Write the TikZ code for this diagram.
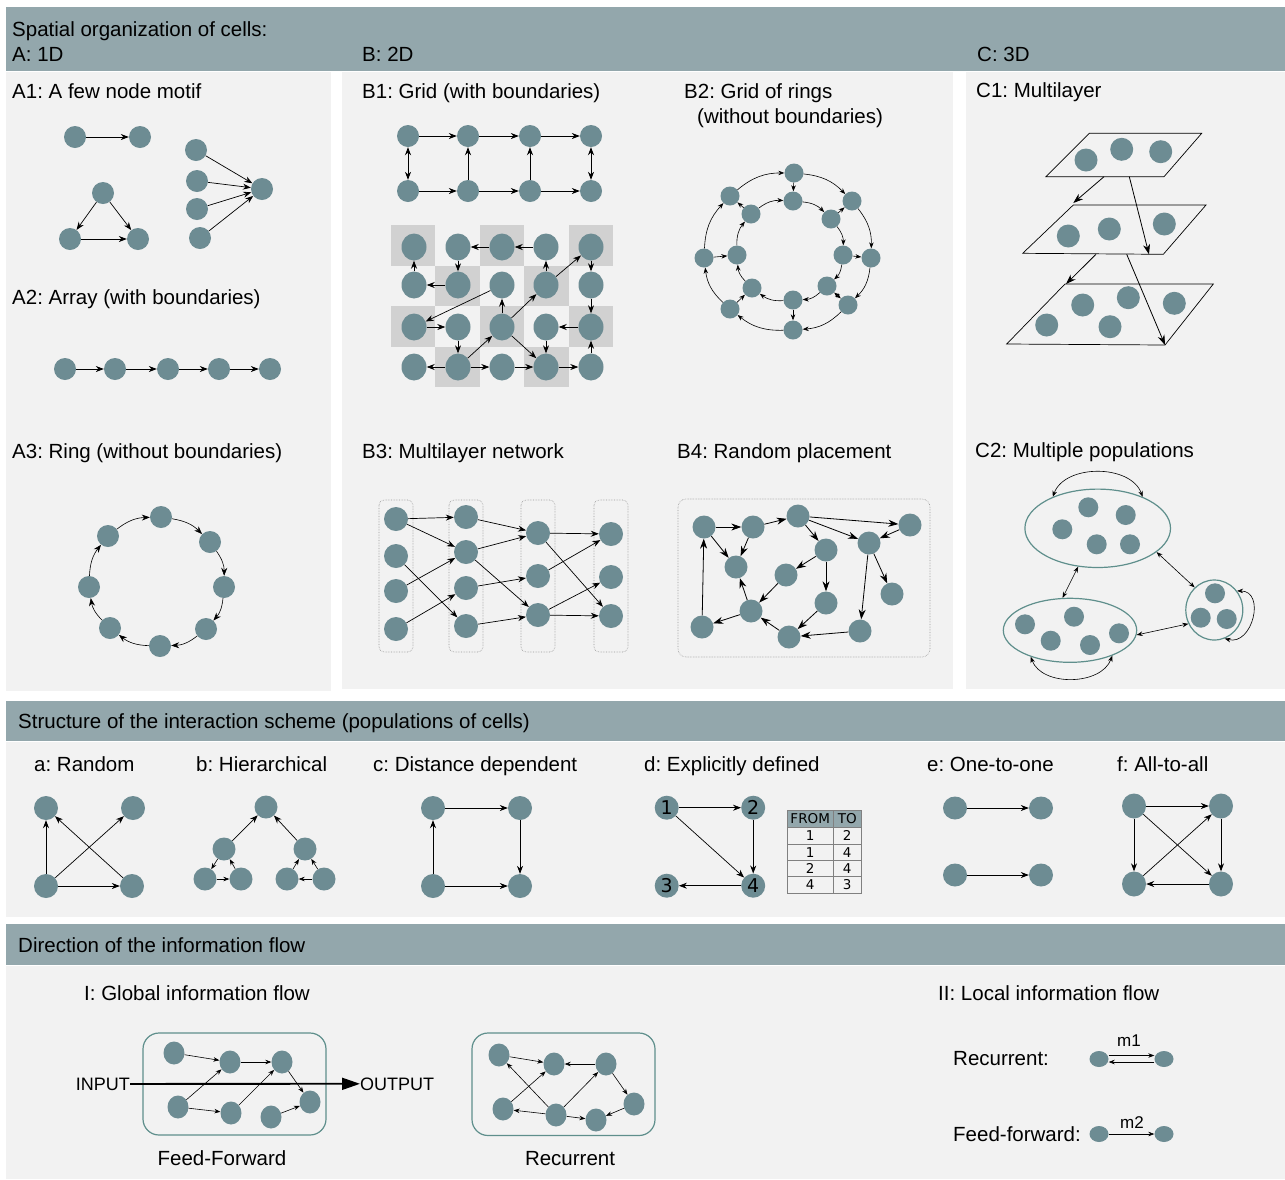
\documentclass[tikz,border=0pt]{standalone}
\usepackage{fontspec}
\setmainfont{Liberation Sans}
\newfontfamily\tabfont{DejaVu Sans}
\usetikzlibrary{arrows.meta,shapes.geometric}
\frenchspacing
\definecolor{headc}{HTML}{93A7AC}
\definecolor{panelc}{HTML}{F2F2F2}
\definecolor{cellc}{HTML}{6D8C93}
\definecolor{checkc}{HTML}{D1D1D1}
\definecolor{popc}{HTML}{5F8F8C}
\definecolor{dotc}{HTML}{9A9A9A}
\definecolor{gridc}{HTML}{808080}
\begin{document}
\begin{tikzpicture}[x=1pt,y=-1pt,
  cell/.style={ellipse,fill=cellc,draw=none,inner sep=0pt,minimum width=#1pt,minimum height=#1pt},
  cell/.default=22,
  lab/.style={anchor=base west,inner sep=0pt,font=\fontsize{20.5}{24}\selectfont},
  clab/.style={anchor=base,inner sep=0pt,font=\fontsize{20.5}{24}\selectfont},
  head/.style={fill=headc,draw=none},
  panel/.style={fill=panelc,draw=none},
  arr/.style={-{Stealth[length=8pt,width=6pt]},line width=0.7pt},
  arrl/.style={-{Stealth[length=10pt,width=7pt]},line width=0.8pt},
  arrs/.style={-{Stealth[length=6pt,width=4.5pt]},line width=0.6pt},
  darr/.style={{Stealth[length=8pt,width=6pt]}-{Stealth[length=8pt,width=6pt]},line width=0.7pt},
  darrs/.style={{Stealth[length=6pt,width=4.5pt]}-{Stealth[length=6pt,width=4.5pt]},line width=0.6pt},
  plane/.style={draw=black,line width=0.7pt},
  pop/.style={ellipse,draw=popc,line width=1.2pt,inner sep=0pt},
  layerbox/.style={draw=dotc,densely dotted,rounded corners=5pt,line width=0.6pt},
  netbox/.style={draw=popc,line width=1.2pt,rounded corners=16pt},
  tabtxt/.style={inner sep=0pt,font=\tabfont\fontsize{13.5}{15}\selectfont},
]
\useasboundingbox (0,0) rectangle (1285,1179);
\fill[white] (0,0) rectangle (1285,1179);
% section backgrounds
\fill[head] (6,7) rectangle (1285,71);
\fill[panel] (6,72) rectangle (331,691);
\fill[panel] (342,72) rectangle (953,689);
\fill[panel] (966,72) rectangle (1285,689);
\fill[head] (6,701) rectangle (1285,741);
\fill[panel] (6,742) rectangle (1285,917);
\fill[head] (6,924) rectangle (1285,965);
\fill[panel] (6,966) rectangle (1285,1179);

% ---------------- headings ----------------
\node[lab] (tSpatial) at (12,36) {Spatial organization of cells:};
\node[lab] (tA) at (12,61) {A: 1D};
\node[lab] (tB) at (362,61) {B: 2D};
\node[lab] (tC) at (977,61) {C: 3D};
\node[lab] (tA1) at (12,98) {A1: A few node motif};
\node[lab] (tA2) at (12,304) {A2: Array (with boundaries)};
\node[lab] (tA3) at (12,458) {A3: Ring (without boundaries)};
\node[lab] (tB1) at (362,98) {B1: Grid (with boundaries)};
\node[lab] (tB2) at (684,98) {B2: Grid of rings};
\node[lab] (tB2b) at (697,123) {(without boundaries)};
\node[lab] (tB3) at (362,458) {B3: Multilayer network};
\node[lab] (tB4) at (677,458) {B4: Random placement};
\node[lab] (tC1) at (976,97) {C1: Multilayer};
\node[lab] (tC2) at (975,457) {C2: Multiple populations};

% ---------------- A1: motifs ----------------
\node[cell] (p1) at (75,137) {};
\node[cell] (p2) at (140,137) {};
\draw[arr] (p1) -- (p2);
\node[cell] (t1) at (103,193) {};
\node[cell] (t2) at (70,239) {};
\node[cell] (t3) at (138,239) {};
\draw[arr] (t1) -- (t2);
\draw[arr] (t1) -- (t3);
\draw[arr] (t2) -- (t3);
\node[cell] (f1) at (196,150) {};
\node[cell] (f2) at (197,181) {};
\node[cell] (f3) at (197,209) {};
\node[cell] (f4) at (200,238) {};
\node[cell] (f0) at (262,189) {};
\foreach \s in {f1,f2,f3,f4} \draw[arr] (\s) -- (f0);

% ---------------- A2: array ----------------
\foreach \i/\x in {1/65,2/115,3/168,4/219,5/270} \node[cell] (r\i) at (\x,369) {};
\foreach \i/\j in {1/2,2/3,3/4,4/5} \draw[arr] (r\i) -- (r\j);

% ---------------- A3: ring ----------------
\foreach \i/\x/\y in {1/161/517,2/210/542,3/224/587,4/206/629,5/160/646,6/110/628,7/89/587,8/108/536}
  \node[cell] (g\i) at (\x,\y) {};
\foreach \i/\j in {1/2,2/3,3/4,4/5,5/6,6/7,7/8,8/1} \draw[arr,line width=0.6pt] (g\i) to[bend left=18] (g\j);

% ---------------- B1: grid ----------------
\foreach \i/\x in {1/408,2/468,3/530,4/591} {
  \node[cell] (bt\i) at (\x,136) {};
  \node[cell] (bb\i) at (\x,191) {};
}
\foreach \i/\j in {1/2,2/3,3/4} { \draw[arr] (bt\i) -- (bt\j); \draw[arr] (bb\i) -- (bb\j); }
\draw[darr] (bt1) -- (bb1);
\draw[arr] (bb2) -- (bt2);
\draw[arr] (bb3) -- (bt3);
\draw[darr] (bt4) -- (bb4);

% checkerboard grid
\foreach \c/\r in {0/0,2/0,4/0,1/1,3/1,0/2,2/2,4/2,1/3,3/3}
  \fill[checkc] (391+44.4*\c,225+40.5*\r) rectangle +(44.4,40.5);
\foreach \r/\y in {1/247,2/285,3/327,4/367}
  \foreach \c/\x in {1/414,2/458,3/502,4/546,5/591}
    \node[cell=25,minimum height=27pt] (q\r\c) at (\x,\y) {};
\draw[arr] (q13) -- (q12);
\draw[arr] (q14) -- (q13);
\draw[arr] (q12) -- (q22);
\draw[arr] (q21) -- (q11);
\draw[arr] (q22) -- (q21);
\draw[arr] (q23) -- (q31);
\draw[arr] (q24) -- (q14);
\draw[arr] (q24) -- (q15);
\draw[arr] (q15) -- (q25);
\draw[arr] (q25) -- (q35);
\draw[arr] (q31) -- (q32);
\draw[arr] (q33) -- (q23);
\draw[arr] (q33) -- (q24);
\draw[arr] (q35) -- (q34);
\draw[arr] (q32) -- (q42);
\draw[arr] (q42) -- (q33);
\draw[arr] (q33) -- (q44);
\draw[arr] (q34) -- (q44);
\draw[arr] (q42) -- (q41);
\draw[arr] (q42) -- (q43);
\draw[arr] (q43) -- (q44);
\draw[arr] (q44) -- (q45);
\draw[arr] (q45) -- (q35);

% ---------------- B2: grid of rings ----------------
\foreach \i/\x/\y in {1/794/173,2/852/201,3/871/258,4/848/305,5/793/330,6/730/309,7/704/258,8/730/196}
  \node[cell=19] (o\i) at (\x,\y) {};
\foreach \i/\x/\y in {1/793/201,2/831/219,3/843/255,4/827/286,5/793/300,6/752/288,7/737/255,8/751/214}
  \node[cell=19] (i\i) at (\x,\y) {};
\foreach \i/\j in {1/2,2/3,3/4,4/5,5/6,6/7,7/8,8/1} {
  \draw[arrs] (o\i) to[bend left=20] (o\j);
  \draw[arrs] (i\i) to[bend left=20] (i\j);
}
\draw[arrs] (o1) -- (i1);
\draw[arrs] (o7) -- (i7);
\draw[arrs] (i8) -- (o8);
\draw[arrs] (i2) -- (o2);
\draw[arrs] (i3) -- (o3);
\draw[darrs] (i4) -- (o4);
\draw[arrs] (i5) -- (o5);
\draw[arrs] (o6) -- (i6);

% ---------------- B3: multilayer network ----------------
\draw[layerbox] (379,500) rectangle (413,652);
\draw[layerbox] (449,500) rectangle (483,652);
\draw[layerbox] (521,500) rectangle (555,652);
\draw[layerbox] (594,500) rectangle (628,652);
\foreach \i/\y in {1/519,2/556,3/591,4/629} \node[cell=24] (la\i) at (396,\y) {};
\foreach \i/\y in {1/517,2/552,3/588,4/626} \node[cell=24] (lb\i) at (466,\y) {};
\foreach \i/\y in {1/533,2/576,3/615} \node[cell=24] (lc\i) at (538,\y) {};
\foreach \i/\y in {1/534,2/577,3/616} \node[cell=24] (ld\i) at (611,\y) {};
\draw[arr] (la1) -- (lb1);
\draw[arr] (la1) -- (lb2);
\draw[arr] (la2) -- (lb4);
\draw[arr] (la3) -- (lb2);
\draw[arr] (la4) -- (lb3);
\draw[arr] (lb1) -- (lc1);
\draw[arr] (lb2) -- (lc1);
\draw[arr] (lb2) -- (lc3);
\draw[arr] (lb3) -- (lc2);
\draw[arr] (lb4) -- (lc3);
\draw[arr] (lc1) -- (ld1);
\draw[arr] (lc1) -- (ld3);
\draw[arr] (lc2) -- (ld1);
\draw[arr] (lc3) -- (ld2);
\draw[arr] (lc3) -- (ld3);

% ---------------- B4: random placement ----------------
\draw[layerbox,rounded corners=8pt] (678,499) rectangle (930,657);
\foreach \i/\x/\y in {1/704/527,2/753/527,3/798/516,4/910/525,5/869/543,6/736/567,7/786/575,
    8/826/550,9/826/603,10/892/594,11/751/611,12/702/627,13/789/637,14/860/631}
  \node[cell=23] (w\i) at (\x,\y) {};
\foreach \a/\b in {1/2,2/3,3/4,3/5,3/8,4/5,1/6,2/6,8/7,8/9,7/11,11/6,11/12,12/1,9/13,13/11,14/13,5/14,5/10}
  \draw[arrl] (w\a) -- (w\b);

% ---------------- C1: stacked layers ----------------
\draw[plane] (1046,176.7) -- (1089.3,133.3) -- (1201.7,133.3) -- (1164,176.7) -- cycle;
\draw[plane] (1022.7,253.3) -- (1073.3,205) -- (1206,205) -- (1163.3,254.3) -- cycle;
\draw[plane] (1006.7,344) -- (1065,284) -- (1213.3,284) -- (1165,345) -- cycle;
\node[cell=23] (u1) at (1086,160) {};
\node[cell=23] (u2) at (1121.7,149.3) {};
\node[cell=23] (u3) at (1160.7,151.7) {};
\node[cell=23] (v1) at (1068.3,236) {};
\node[cell=23] (v2) at (1109.3,229) {};
\node[cell=23] (v3) at (1164.3,224) {};
\node[cell=23] (s1) at (1046.7,325) {};
\node[cell=23] (s2) at (1082.7,305) {};
\node[cell=23] (s3) at (1128.3,297.7) {};
\node[cell=23] (s4) at (1174.3,303.3) {};
\node[cell=23] (s5) at (1110,326.7) {};
\coordinate (ka) at (1104,176.7);
\coordinate (kb) at (1073.3,203);
\coordinate (kc) at (1129.3,176.7);
\coordinate (kd) at (1149,254.3);
\coordinate (ke) at (1096,254.3);
\coordinate (kf) at (1066,284);
\coordinate (kg) at (1126.7,254.3);
\coordinate (kh) at (1165,345);
\draw[arrl] (ka) -- (kb);
\draw[arrl] (kc) -- (kd);
\draw[arrl] (ke) -- (kf);
\draw[arrl] (kg) -- (kh);

% ---------------- C2: populations ----------------
\node[pop,minimum width=145.6pt,minimum height=78.4pt] (E1) at (1097.7,528.3) {};
\node[pop,minimum width=133.4pt,minimum height=64pt] (E2) at (1070,630.3) {};
\node[pop,minimum width=57pt,minimum height=60pt] (E3) at (1214.3,610) {};
\foreach \i/\x/\y in {1/1088.3/507.3,2/1125.7/515,3/1062.3/529.3,4/1096.7/544.3,5/1130/544.3}
  \node[cell=20] (h\i) at (\x,\y) {};
\foreach \i/\x/\y in {1/1025/624.3,2/1074/616.7,3/1050.7/640.7,4/1090/645,5/1119/633.3}
  \node[cell=20] (m\i) at (\x,\y) {};
\foreach \i/\x/\y in {1/1215/593.3,2/1200.7/617.7,3/1226.7/619}
  \node[cell=20] (z\i) at (\x,\y) {};
\draw[darrs] (E1.145) to[out=70,in=110] (E1.35);
\draw[darrs] (E1.-117) -- (E2.103);
\draw[darrs] (E1.-22) -- (E3.131);
\draw[darrs] (E2.-4) -- (E3.208);
\draw[darrs] (E2.-146) to[out=-70,in=-110] (E2.-31);
\draw[darrs] (E3.40) to[out=0,in=-15,looseness=1.5] (E3.-70);

% ---------------- structure of the interaction scheme ----------------
\node[lab] (tStruct) at (18,728) {Structure of the interaction scheme (populations of cells)};
\node[lab] (ta) at (34,771) {a: Random};
\node[lab] (tb) at (196,771) {b: Hierarchical};
\node[lab] (tc) at (373,771) {c: Distance dependent};
\node[lab] (td) at (644,771) {d: Explicitly defined};
\node[lab] (te) at (927,771) {e: One-to-one};
\node[lab] (tf) at (1117,771) {f: All-to-all};

% a: random
\node[cell=24] (ra1) at (46,808) {};
\node[cell=24] (ra2) at (133,808) {};
\node[cell=24] (ra3) at (46,886) {};
\node[cell=24] (ra4) at (132,886) {};
\draw[arr] (ra3) -- (ra1);
\draw[arr] (ra3) -- (ra2);
\draw[arr] (ra3) -- (ra4);
\draw[arr] (ra4) -- (ra1);

% b: hierarchical
\node[cell=23] (hb0) at (266,807) {};
\node[cell=23] (hbL) at (224,849) {};
\node[cell=23] (hbR) at (305,849) {};
\node[cell=23] (hbLL) at (205,879) {};
\node[cell=23] (hbLR) at (241,879) {};
\node[cell=23] (hbRL) at (287,879) {};
\node[cell=23] (hbRR) at (324,879) {};
\draw[arr] (hbL) -- (hb0);
\draw[arr] (hbR) -- (hb0);
\draw[arrs] (hbL) -- (hbLL);
\draw[arrs] (hbLR) -- (hbL);
\draw[arrs] (hbLL) -- (hbLR);
\draw[arrs] (hbRL) -- (hbR);
\draw[arrs] (hbRR) -- (hbR);
\draw[arrs] (hbRR) -- (hbRL);

% c: distance dependent
\node[cell=24] (dc1) at (433,808) {};
\node[cell=24] (dc2) at (520,808) {};
\node[cell=24] (dc3) at (433,886) {};
\node[cell=24] (dc4) at (520,886) {};
\draw[arr] (dc1) -- (dc2);
\draw[arr] (dc2) -- (dc4);
\draw[arr] (dc3) -- (dc4);
\draw[arr] (dc3) -- (dc1);

% d: explicitly defined
\begin{scope}[every node/.append style={font=\tabfont\fontsize{19}{20}\selectfont}]
\node[cell=24] (x1) at (666.7,807.7) {1};
\node[cell=24] (x2) at (753.2,807.7) {2};
\node[cell=24] (x3) at (666.7,885.7) {3};
\node[cell=24] (x4) at (753.2,885.7) {4};
\end{scope}
\draw[arr] (x1) -- (x2);
\draw[arr] (x1) -- (x4);
\draw[arr] (x2) -- (x4);
\draw[arr] (x4) -- (x3);
% connection table
\fill[headc] (787,810.7) rectangle (861,827.3);
\draw[gridc,line width=0.6pt] (787,810.7) rectangle (861,893.3);
\foreach \y in {827.3,844,860.7,876.7} \draw[gridc,line width=0.6pt] (787,\y) -- (861,\y);
\draw[gridc,line width=0.6pt] (833.4,810.7) -- (833.4,893.3);
\node[tabtxt] (tabF) at (810.2,819) {FROM};
\node[tabtxt] (tabT) at (847.2,819) {TO};
\foreach \k/\y/\a/\b in {1/835.7/1/2,2/852.3/1/4,3/868.7/2/4,4/885/4/3} {
  \node[tabtxt] (tabA\k) at (810.2,\y) {\a};
  \node[tabtxt] (tabB\k) at (847.2,\y) {\b};
}

% e: one-to-one
\node[cell=24,minimum height=23pt] (oa1) at (955,808) {};
\node[cell=24,minimum height=23pt] (ob1) at (1041,808) {};
\node[cell=24,minimum height=23pt] (oa2) at (955,875) {};
\node[cell=24,minimum height=23pt] (ob2) at (1041,875) {};
\draw[arr] (oa1) -- (ob1);
\draw[arr] (oa2) -- (ob2);

% f: all-to-all
\node[cell=24,minimum height=25pt] (fa) at (1134,806) {};
\node[cell=24,minimum height=25pt] (fb) at (1221,806) {};
\node[cell=24,minimum height=25pt] (fc) at (1134,884) {};
\node[cell=24,minimum height=25pt] (fd) at (1221,884) {};
\draw[arr] (fa) -- (fb);
\draw[arr] (fa) -- (fc);
\draw[arr] (fa) -- (fd);
\draw[arr] (fb) -- (fd);
\draw[arr] (fc) -- (fb);
\draw[arr] (fd) -- (fc);

% ---------------- direction of the information flow ----------------
\node[lab] (tDir) at (18,952) {Direction of the information flow};
\node[lab] (tGlob) at (84,1000) {I: Global information flow};
\node[lab] (tLoc) at (938,1000) {II: Local information flow};

% feed-forward network
\draw[netbox] (143,1033) rectangle (326,1135);
\foreach \i/\x/\y in {1/174/1053,2/230/1062,3/282/1062,4/178/1107,5/231/1113,6/271/1117,7/310/1102}
  \node[cell=21,minimum height=23pt] (ff\i) at (\x,\y) {};
\foreach \a/\b in {1/2,2/3,4/2,4/5,5/3,3/7,6/7} \draw[arrs] (ff\a) -- (ff\b);
\node[anchor=base east,inner sep=0pt,font=\fontsize{18}{20}\selectfont] (inp) at (130,1090) {INPUT};
\node[anchor=base west,inner sep=0pt,font=\fontsize{18}{20}\selectfont] (outp) at (360,1090) {OUTPUT};
\draw[line width=1.8pt,-{Triangle[length=18pt,width=12pt]}] (inp.east) -- (outp.west);
\node[clab] (tFF) at (222,1165) {Feed-Forward};

% recurrent network
\draw[netbox] (472,1033) rectangle (655,1135.5);
\foreach \i/\x/\y in {1/499/1055,2/554/1064,3/606/1064,4/503/1109,5/556/1115,6/596/1120,7/634/1104}
  \node[cell=21,minimum height=23pt] (rc\i) at (\x,\y) {};
\foreach \a/\b in {1/2,3/2,4/2,5/1,5/4,5/3,5/6,3/7,7/6} \draw[arrs] (rc\a) -- (rc\b);
\node[clab] (tRec) at (570,1165) {Recurrent};

% local motifs
\node[lab] (tRecL) at (953,1065) {Recurrent:};
\node[lab] (tFFL) at (953,1141) {Feed-forward:};
\node[cell=19,minimum height=16pt] (ma) at (1099,1059) {};
\node[cell=19,minimum height=16pt] (mb) at (1164,1059) {};
\node[cell=19,minimum height=16pt] (na) at (1099,1134) {};
\node[cell=19,minimum height=16pt] (nb) at (1164,1134) {};
\draw[arrs] ([yshift=3.5pt]ma.east) -- ([yshift=3.5pt]mb.west);
\draw[arrs] ([yshift=-3pt]mb.west) -- ([yshift=-3pt]ma.east);
\draw[arrs] (na) -- (nb);
\node[anchor=base,inner sep=0pt,font=\fontsize{17}{18}\selectfont] (tm1) at (1129,1046) {m1};
\node[anchor=base,inner sep=0pt,font=\fontsize{17}{18}\selectfont] (tm2) at (1132,1128) {m2};
\end{tikzpicture}
\end{document}
